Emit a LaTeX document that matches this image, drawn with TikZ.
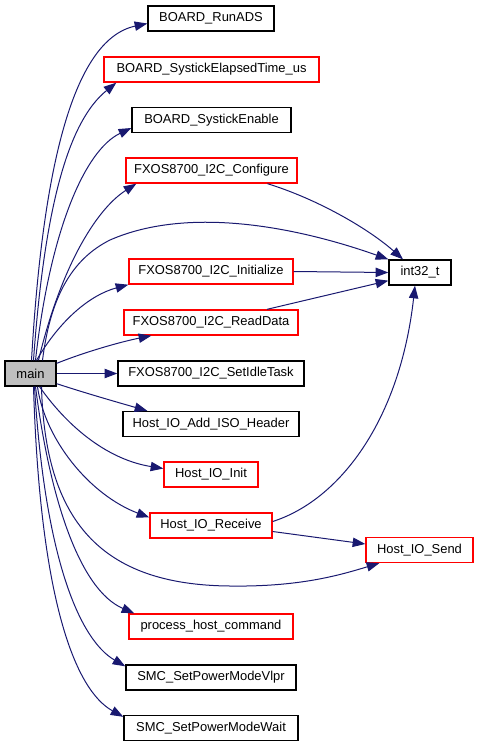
\documentclass[tikz,border=0pt]{standalone}
\usepackage{fontspec}
\setmainfont{Liberation Sans}
\usetikzlibrary{arrows.meta,calc}
\definecolor{edgec}{HTML}{191970}
\definecolor{mainfill}{HTML}{BFBFBF}
\tikzset{
  box/.style={draw=black, line width=1pt, fill=white, inner sep=0pt,
    minimum height=18.75pt, font=\fontsize{9.7}{11}\selectfont},
  trunc/.style={box, draw=red},
  mainbox/.style={box, fill=mainfill},
  wpx/.style={minimum width=#1*0.75pt},
  edge/.style={draw=edgec, line width=0.75pt, -{Triangle[length=9.5pt,width=7pt]}}
}
\begin{document}
\begin{tikzpicture}[x=0.75pt,y=-0.75pt]
\useasboundingbox (0,0) rectangle (479,747);
% nodes
\node[box, wpx=126] (runads) at (211,18.5) {BOARD\_RunADS};
\node[trunc, wpx=215] (elapsed) at (211.5,69.5) {BOARD\_SystickElapsedTime\_us};
\node[box, wpx=159] (enable) at (211.5,120) {BOARD\_SystickEnable};
\node[trunc, wpx=171] (config) at (211.5,170.5) {FXOS8700\_I2C\_Configure};
\node[trunc, wpx=164] (init2c) at (211,271.5) {FXOS8700\_I2C\_Initialize};
\node[box, wpx=62] (int32) at (420,272.5) {int32\_t};
\node[trunc, wpx=174] (readdata) at (211,322.5) {FXOS8700\_I2C\_ReadData};
\node[mainbox, wpx=51] (main) at (30.5,373.5) {main};
\node[box, wpx=186] (idle) at (211,373.5) {FXOS8700\_I2C\_SetIdleTask};
\node[box, wpx=176] (iso) at (211,424) {Host\_IO\_Add\_ISO\_Header};
\node[trunc, wpx=94] (ioinit) at (211,474.5) {Host\_IO\_Init};
\node[trunc, wpx=122] (recv) at (211,525.5) {Host\_IO\_Receive};
\node[trunc, wpx=107] (send) at (419.5,550) {Host\_IO\_Send};
\node[trunc, wpx=164] (proc) at (211,626.5) {process\_host\_command};
\node[box, wpx=170] (vlpr) at (211,677.5) {SMC\_SetPowerModeVlpr};
\node[box, wpx=174] (wait) at (211,728) {SMC\_SetPowerModeWait};
% edges
\draw[edge] ($(main.north)+(1,0)$) .. controls (42,180) and (70,40) .. ($(runads.west)+(0,5)$);
\draw[edge] ($(main.north)+(3,0)$) .. controls (45,200) and (70,120) .. ($(elapsed.south west)+(13,0)$);
\draw[edge] ($(main.north)+(5,0)$) .. controls (50,230) and (85,150) .. ($(enable.west)+(0,8)$);
\draw[edge] ($(main.north)+(8,0)$) .. controls (60,270) and (95,210) .. ($(config.south west)+(11,0)$);
\draw[edge] ($(main.north)+(12,0)$) .. controls (50,300) and (70,260) .. (110,240) .. controls (190,205) and (300,228) .. (int32.north west);
\draw[edge] ($(config.south)+(56,0)$) .. controls (320,200) and (370,230) .. ($(int32.north)+(-17,0)$);
\draw[edge] ($(main.north)+(6,0)$) .. controls (60,320) and (90,295) .. (init2c.south west);
\draw[edge] (init2c.east) -- (int32.west);
\draw[edge] ($(readdata.north)+(56,0)$) -- ($(int32.south west)+(0,-5)$);
\draw[edge] ($(main.north east)+(0,3)$) .. controls (85,352) and (120,342) .. ($(readdata.south west)+(28,0)$);
\draw[edge] (main.east) -- (idle.west);
\draw[edge] ($(main.south east)+(0,-3)$) .. controls (85,393) and (120,403) .. ($(iso.north west)+(25,0)$);
\draw[edge] ($(main.south)+(9,0)$) .. controls (70,430) and (110,460) .. ($(ioinit.west)+(0,-6)$);
\draw[edge] ($(main.south)+(7,0)$) .. controls (45,440) and (90,495) .. ($(recv.west)+(0,-8)$);
\draw[edge] ($(recv.east)+(0,-4)$) .. controls (340,500) and (400,420) .. ($(int32.south)+(-5,0)$);
\draw[edge] ($(recv.east)+(0,6)$) -- ($(send.west)+(0,-6)$);
\draw[edge] ($(main.south)+(11,0)$) .. controls (45,520) and (100,585) .. (230,586) .. controls (300,587) and (340,575) .. ($(send.south west)+(14,0)$);
\draw[edge] ($(main.south)+(5,0)$) .. controls (50,500) and (80,590) .. ($(proc.north west)+(6,0)$);
\draw[edge] ($(main.south)+(4,0)$) .. controls (45,560) and (80,640) .. ($(vlpr.north west)+(0,2)$);
\draw[edge] ($(main.south)+(3,0)$) .. controls (40,600) and (75,690) .. ($(wait.north west)+(0,2)$);
\end{tikzpicture}
\end{document}
